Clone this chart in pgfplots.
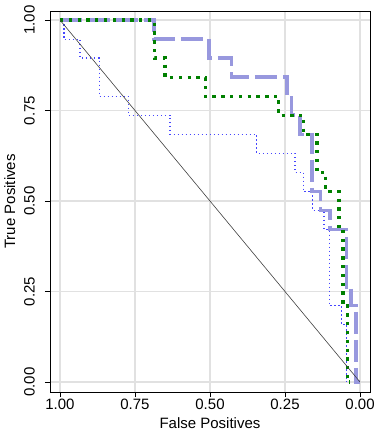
\documentclass[border=0pt]{standalone}
\usepackage{fontspec}
\setmainfont{Liberation Sans}
\usepackage{pgfplots}
\pgfplotsset{compat=1.18}
\definecolor{lav}{RGB}{152,152,222}
\definecolor{grn}{RGB}{0,128,0}
\definecolor{blu}{RGB}{70,70,255}
\definecolor{gridc}{RGB}{225,225,225}
\begin{document}
\begin{tikzpicture}[font=\fontsize{15bp}{18bp}\selectfont]
\begin{axis}[
  at={(50bp,38bp)}, anchor=south west,
  scale only axis, width=320bp, height=381bp,
  x dir=reverse,
  xmin=-0.0333, xmax=1.0333, ymin=-0.0276, ymax=1.0249,
  xtick={0,0.25,0.5,0.75,1}, xticklabels={0.00,0.25,0.50,0.75,1.00},
  ytick={0,0.25,0.5,0.75,1}, yticklabels={0.00,0.25,0.50,0.75,1.00},
  tick pos=left,
  grid=major, major grid style={gridc, line width=1.2bp},
  tick align=outside, major tick length=5bp,
  tick style={black, line width=0.8bp},
  axis line style={line width=0.8bp},
  yticklabel style={xshift=-10bp, rotate=90, anchor=south, inner sep=0pt},
  xticklabel style={anchor=north, inner sep=0pt, yshift=-2bp},
  xlabel={False Positives}, ylabel={True Positives},
  xlabel style={at={(axis description cs:0.5,0)}, anchor=base, yshift=-36bp, inner sep=0pt},
  ylabel style={at={(axis description cs:-0.108,0.5)}, anchor=south, rotate=0, inner sep=0pt},
]
\addplot[blu, line width=1.3bp, dash pattern=on 1.4bp off 2.6bp] coordinates {
(1,1)(0.987,1)(0.987,0.947)(0.933,0.947)(0.933,0.895)(0.869,0.895)(0.869,0.789)(0.772,0.789)(0.772,0.737)(0.633,0.737)(0.633,0.684)(0.344,0.684)(0.344,0.632)(0.217,0.632)(0.217,0.579)(0.189,0.579)(0.189,0.526)(0.158,0.526)(0.158,0.474)(0.12,0.474)(0.12,0.421)(0.102,0.421)(0.102,0.211)(0.061,0.211)(0.061,0.158)(0.045,0.158)(0.045,0)
};
\addplot[lav, line width=3.5bp, dash pattern=on 22bp off 6bp] coordinates {
(1,1)(0.687,1)(0.687,0.947)(0.504,0.947)(0.504,0.895)(0.428,0.895)(0.428,0.842)(0.244,0.842)(0.244,0.789)(0.228,0.789)(0.228,0.737)(0.2,0.737)(0.2,0.684)(0.16,0.684)(0.16,0.526)(0.131,0.526)(0.131,0.474)(0.1,0.474)(0.1,0.421)(0.045,0.421)(0.045,0.263)(0.03,0.263)(0.03,0.211)(0.013,0.211)(0.013,0)(0,0)
};
\addplot[grn, line width=3.3bp, dash pattern=on 3.3bp off 5.5bp] coordinates {
(1,1)(0.686,1)(0.686,0.895)(0.65,0.895)(0.65,0.842)(0.516,0.842)(0.516,0.789)(0.271,0.789)(0.271,0.737)(0.189,0.737)(0.189,0.684)(0.143,0.684)(0.143,0.579)(0.114,0.579)(0.114,0.526)(0.07,0.526)(0.07,0.421)(0.057,0.421)(0.057,0.211)(0.042,0.211)(0.042,0)(0.033,0)
};
\addplot[black!75, line width=0.6bp] coordinates {(1,1)(0,0)};
\end{axis}
\pgfresetboundingbox
\path[use as bounding box] (0,0) rectangle (376bp,430bp);
\end{tikzpicture}
\end{document}
